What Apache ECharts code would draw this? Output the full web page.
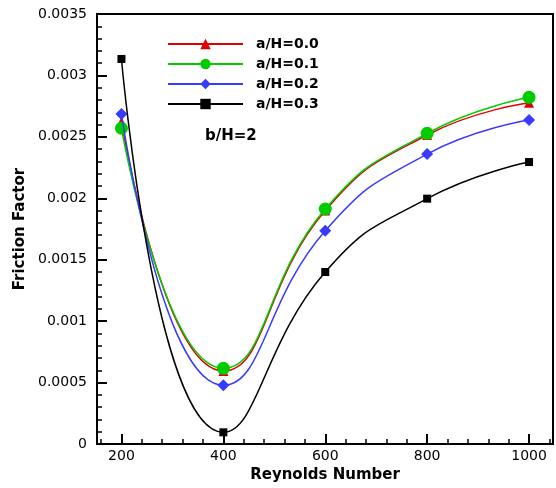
<!DOCTYPE html>
<html>
<head>
<meta charset="utf-8">
<script src="https://cdn.jsdelivr.net/npm/echarts@6/dist/echarts.min.js"></script>
<style>html,body{margin:0;padding:0;background:#fff}#c{width:556px;height:488px}</style>
</head>
<body>
<div id="c"></div>
<script>
var reynolds = [200, 400, 600, 800, 1000];
var seriesNames = ['a/H=0.0', 'a/H=0.1', 'a/H=0.2', 'a/H=0.3'];
var f00 = [0.00262, 0.000594, 0.00190, 0.002515, 0.002778];
var f01 = [0.00257, 0.000616, 0.001913, 0.002529, 0.002822];
var f02 = [0.002686, 0.000478, 0.001736, 0.00236, 0.002637];
var f03 = [0.003134, 0.000095, 0.00140, 0.001997, 0.002295];
var xMajorTicks = [200, 400, 600, 800, 1000];
var xMinorTicks = [160, 240, 280, 320, 360, 440, 480, 520, 560, 640, 680, 720, 760, 840, 880, 920, 960, 1040];
var annotation = 'b/H=2';

function pairs(v) { return reynolds.map(function (x, i) { return [x, v[i]]; }); }

var FONT = 'DejaVu Sans';
var chart = echarts.init(document.getElementById('c'), null, {renderer: 'canvas'});

var xMin = 152, xMax = 1047;
var styles = [
  {color: '#e00000', symbol: 'triangle', size: 10},
  {color: '#00cc00', symbol: 'circle', size: 13},
  {color: '#3a3aff', symbol: 'diamond', size: 12},
  {color: '#000000', symbol: 'rect', size: 8}
];
var datas = [f00, f01, f02, f03];

chart.setOption({
  animation: false,
  backgroundColor: '#fff',
  grid: {left: 97, top: 14, right: 3, bottom: 44, show: true, borderColor: '#000', borderWidth: 2, backgroundColor: 'transparent', containLabel: false},
  legend: {
    orient: 'vertical', left: 162, top: 32,
    itemWidth: 75, itemHeight: 13, itemGap: 6,
    data: seriesNames,
    textStyle: {fontFamily: FONT, fontWeight: 'bold', fontSize: 14, color: '#000', padding: [0, 0, 0, 8]}
  },
  xAxis: [{
    type: 'value', min: xMin, max: xMax,
    name: 'Reynolds Number', nameLocation: 'middle', nameGap: 19,
    nameTextStyle: {fontFamily: FONT, fontWeight: 'bold', fontSize: 15, color: '#000'},
    axisLine: {show: true, lineStyle: {color: '#000', width: 2}},
    axisTick: {show: true, inside: true, length: 10, lineStyle: {color: '#000', width: 2}, customValues: xMajorTicks},
    axisLabel: {show: true, customValues: xMajorTicks, margin: 5, fontFamily: FONT, fontSize: 14, color: '#000',
      formatter: function (v) { return String(v); }},
    splitLine: {show: false}
  }, {
    type: 'value', min: xMin, max: xMax, position: 'bottom',
    axisLine: {show: false},
    axisTick: {show: true, inside: true, length: 5, lineStyle: {color: '#000', width: 1.5}, customValues: xMinorTicks},
    axisLabel: {show: false},
    splitLine: {show: false}
  }],
  yAxis: {
    type: 'value', min: 0, max: 0.0035, interval: 0.0005,
    name: 'Friction Factor', nameLocation: 'middle', nameGap: 58,
    nameTextStyle: {fontFamily: FONT, fontWeight: 'bold', fontSize: 15, color: '#000'},
    axisLine: {show: true, lineStyle: {color: '#000', width: 2}},
    axisTick: {show: true, inside: true, length: 10, lineStyle: {color: '#000', width: 2}},
    minorTick: {show: true, splitNumber: 5, length: 5, lineStyle: {color: '#000', width: 1.5}},
    axisLabel: {margin: 10, fontFamily: FONT, fontSize: 14, color: '#000',
      formatter: function (v) { return String(+v.toFixed(4)); }},
    splitLine: {show: false},
    minorSplitLine: {show: false}
  },
  graphic: [{
    type: 'text', left: 205, top: 129,
    style: {text: annotation, fontFamily: FONT, fontWeight: 'bold', fontSize: 15, fill: '#000'}
  }],
  series: datas.map(function (d, i) {
    return {
      name: seriesNames[i], type: 'line', xAxisIndex: 0,
      data: pairs(d), smooth: true,
      symbol: styles[i].symbol, symbolSize: styles[i].size, showAllSymbol: true,
      lineStyle: {color: styles[i].color, width: 1.5},
      itemStyle: {color: styles[i].color},
      z: 2 + i
    };
  })
});
</script>
</body>
</html>
